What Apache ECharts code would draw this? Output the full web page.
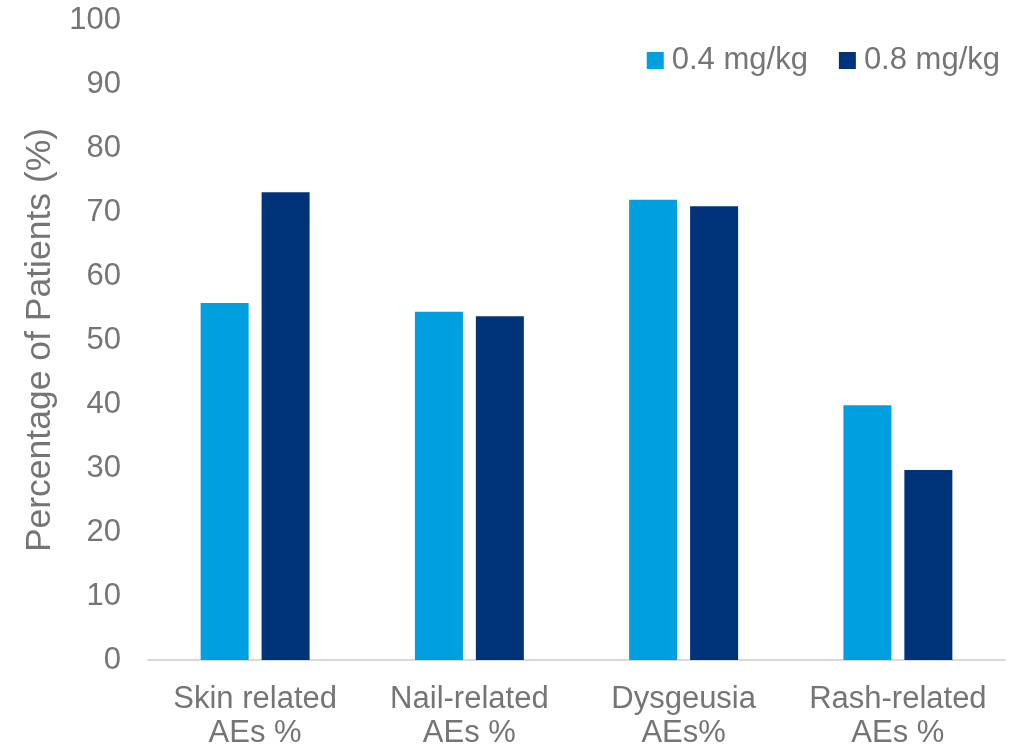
<!DOCTYPE html>
<html>
<head>
<meta charset="utf-8">
<script src="https://cdn.jsdelivr.net/npm/echarts@6/dist/echarts.min.js"></script>
<style>
  html, body { margin: 0; padding: 0; background: #ffffff; }
  #chart { width: 1030px; height: 750px; }
</style>
</head>
<body>
<div id="chart"></div>
<script>
// Adverse-event rates by dose group
const categories = ['Skin related\nAEs %', 'Nail-related\nAEs %', 'Dysgeusia\nAEs%', 'Rash-related\nAEs %'];
const seriesNames = ['0.4 mg/kg', '0.8 mg/kg'];
const dose04 = [55.8, 54.4, 71.9, 39.8];
const dose08 = [73.1, 53.7, 70.9, 29.7];
const yTicks = [0, 10, 20, 30, 40, 50, 60, 70, 80, 90, 100];

const FONT = '"Liberation Sans", Arial, sans-serif';
const TEXT = '#757575';
const colors = ['#009FDF', '#00337A'];

const chart = echarts.init(document.getElementById('chart'), null, { renderer: 'canvas' });
chart.setOption({
  animation: false,
  textStyle: { fontFamily: FONT },
  legend: {
    data: seriesNames,
    right: 25,
    top: 40,
    itemWidth: 17,
    itemHeight: 17,
    itemGap: 31,
    icon: 'rect',
    textStyle: { fontFamily: FONT, fontSize: 31, color: TEXT, padding: [0, 0, 0, 3] }
  },
  grid: { left: 148, right: 25, top: 20, bottom: 90, containLabel: false },
  xAxis: {
    type: 'category',
    data: categories,
    axisLine: { show: true, lineStyle: { color: '#D9D9D9', width: 2 } },
    axisTick: { show: false },
    axisLabel: {
      fontFamily: FONT, fontSize: 31, color: TEXT,
      lineHeight: 34, margin: 22, interval: 0
    }
  },
  yAxis: {
    type: 'value',
    min: yTicks[0],
    max: yTicks[yTicks.length - 1],
    interval: yTicks[1] - yTicks[0],
    name: 'Percentage of Patients (%)',
    nameLocation: 'middle',
    nameGap: 90,
    nameTextStyle: { fontFamily: FONT, fontSize: 35.5, color: TEXT },
    axisLine: { show: false },
    axisTick: { show: false },
    splitLine: { show: false },
    axisLabel: { fontFamily: FONT, fontSize: 31, color: TEXT, margin: 27 }
  },
  series: [
    {
      name: seriesNames[0], type: 'bar', data: dose04,
      barWidth: 48, barGap: '27%',
      itemStyle: { color: colors[0] }
    },
    {
      name: seriesNames[1], type: 'bar', data: dose08,
      barWidth: 48, barGap: '27%',
      itemStyle: { color: colors[1] }
    }
  ]
});
</script>
</body>
</html>
